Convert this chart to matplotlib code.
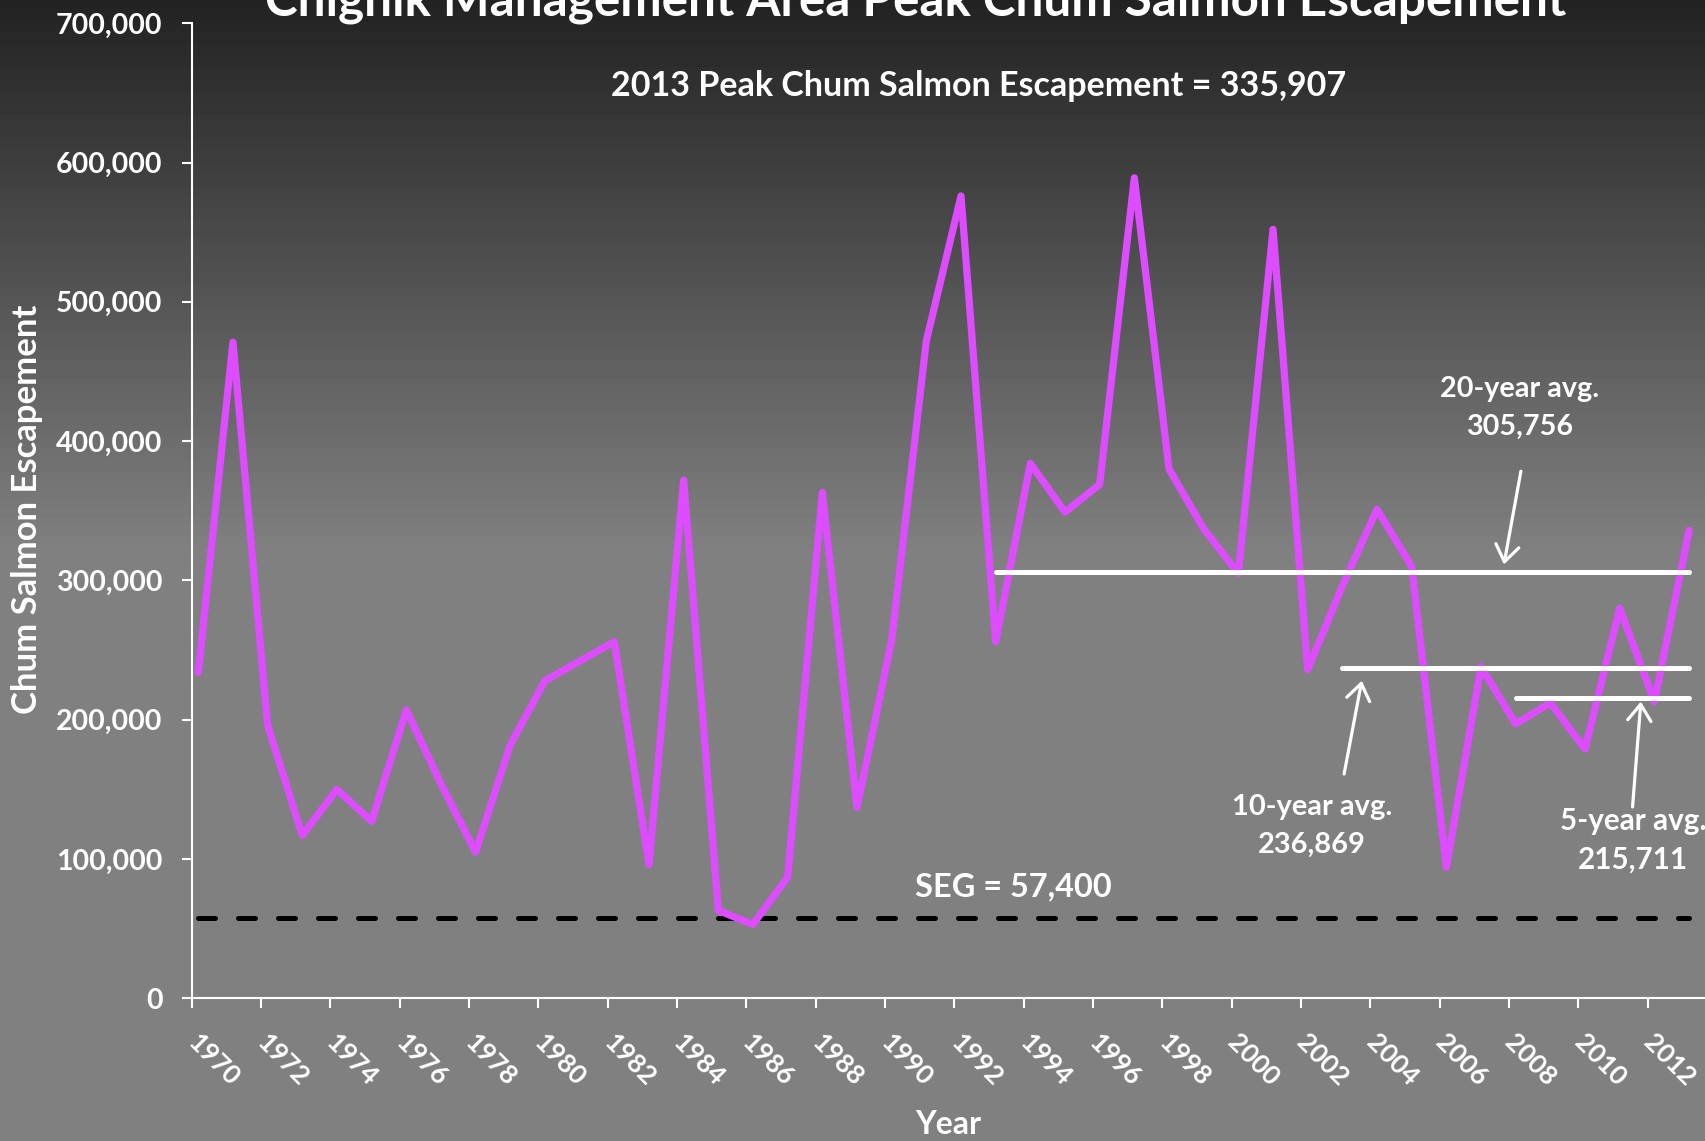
import numpy as np
import matplotlib
matplotlib.use("Agg")
import matplotlib.pyplot as plt

plt.rcParams['font.family'] = ['Lato', 'DejaVu Sans']

# ---------------- data ----------------
years = list(range(1970, 2014))
escapement = [234000, 471000, 196000, 117000, 150000, 127000, 207000, 154000,
              105000, 182000, 228000, 242000, 256000, 96000, 372000, 63000,
              53000, 87000, 363000, 137000, 257000, 472000, 576000, 256000,
              384000, 349000, 369000, 589000, 380000, 337000, 305000, 552000,
              236000, 296000, 351000, 310000, 94000, 238000, 197000, 212000,
              179000, 280000, 213000, 335907]
seg_value = 57400
avg_labels = ["20-year avg.", "10-year avg.", "5-year avg."]
avg_values = [305756, 236869, 215711]
avg_start = [1993, 2003, 2008]
avg_end = 2013
ytick_values = [0, 100000, 200000, 300000, 400000, 500000, 600000, 700000]
xtick_labels = [str(y) for y in range(1970, 2013, 2)]

W, H = 1705, 1141
fig = plt.figure(figsize=(W / 100, H / 100), dpi=100)

# background gradient
bg = fig.add_axes([0, 0, 1, 1])
bg.set_zorder(-5)
yy = np.linspace(0, 1, H).reshape(-1, 1)
grad = np.clip(0.135 + (0.5 - 0.135) * yy / 0.48, None, 0.5)
bg.imshow(grad, cmap='gray', vmin=0, vmax=1, aspect='auto', extent=[0, 1, 0, 1])
bg.axis('off')

x0, xr, ybot, ytop = 191.7, 1705, 998.3, 23.2
ax = fig.add_axes([x0 / W, (H - ybot) / H, (xr - x0) / W, (ybot - ytop) / H])
ax.set_facecolor('none')

magenta = '#DD4CFF'
ax.plot(years, escapement, color=magenta, lw=5.2, solid_joinstyle='round',
        solid_capstyle='round', zorder=3)

# SEG dashed line
ax.plot([years[0], years[-1]], [seg_value, seg_value], color='black', lw=3.6,
        dashes=(3.4, 4.6), dash_capstyle='round', zorder=2)

# average lines
for v, s in zip(avg_values, avg_start):
    ax.plot([s, avg_end], [v, v], color='white', lw=3.6, solid_capstyle='round',
            zorder=4)

ax.set_xlim(1969.81, 2013.46)
ax.set_ylim(0, 700000)

xt = [1969.81 + 2 * k for k in range(len(xtick_labels))]
ax.set_xticks(xt)
ax.set_xticklabels(xtick_labels, rotation=-45, ha='left', va='center',
                   rotation_mode='anchor', fontsize=19, fontweight='bold', color='white')
ax.set_yticks(ytick_values)
ax.set_yticklabels([f"{v:,}" for v in ytick_values], fontsize=20.5,
                   fontweight='bold', color='white')
ax.tick_params(axis='x', direction='out', length=7, width=1.5, color='white', pad=22)
ax.tick_params(axis='y', direction='out', length=7, width=1.5, color='white', pad=14)

for s in ['top', 'right']:
    ax.spines[s].set_visible(False)
for s in ['left', 'bottom']:
    ax.spines[s].set_color('white')
    ax.spines[s].set_linewidth(1.5)

ax.set_ylabel('Chum Salmon Escapement', fontweight='bold', color='white', fontsize=22)
ax.yaxis.set_label_coords((27 - x0) / (xr - x0), (ybot - 509) / (ybot - ytop))
ax.yaxis.label.set_verticalalignment('center')
ax.yaxis.label.set_horizontalalignment('center')
ax.set_xlabel('Year', fontweight='bold', color='white', fontsize=22)
ax.xaxis.set_label_coords(0.5, (ybot - 1124) / (ybot - ytop))
ax.xaxis.label.set_verticalalignment('center')

fig.canvas.draw()
renderer = fig.canvas.get_renderer()


def fit(t, target, use_height=False):
    for _ in range(3):
        bb = t.get_window_extent(renderer=renderer)
        cur = bb.height if use_height else bb.width
        t.set_fontsize(t.get_fontsize() * target / cur)


fit(ax.yaxis.label, 408, use_height=True)
fit(ax.xaxis.label, 66)

title = fig.text(916 / W, 1 - 15 / H, 'Chignik Management Area Peak Chum Salmon Escapement',
                 ha='center', va='baseline', color='white', fontweight='bold', fontsize=36)
fit(title, 1300)

sub = ax.text(1992.52, 647700, '2013 Peak Chum Salmon Escapement = 335,907',
              ha='center', va='baseline', color='white', fontweight='bold', fontsize=22)
fit(sub, 734)

seg_t = ax.text(1993.5, 73000, f'SEG = {seg_value:,}', ha='center', va='baseline',
                color='white', fontweight='bold', fontsize=24)
fit(seg_t, 197)

# annotation texts (two lines each)
ann = [
    (2008.12, 431600, 404200, 159),
    (2002.12, 131300, 104700, 160),
    (2011.38, 120500, 93100, 146),
]
for (lab, v, (xc, y1, y2, wtarget)) in zip(avg_labels, avg_values, ann):
    t1 = ax.text(xc, y1, lab, ha='center', va='baseline', color='white',
                 fontweight='bold', fontsize=22)
    fit(t1, wtarget)
    ax.text(xc, y2, f'{v:,}', ha='center', va='baseline', color='white',
            fontweight='bold', fontsize=t1.get_fontsize())

arrows = [
    ((2008.15, 378400), (2007.66, 311400)),
    ((2003.05, 161000), (2003.56, 228000)),
    ((2011.37, 137400), (2011.61, 213000)),
]
for tail, head in arrows:
    ax.annotate('', xy=head, xytext=tail,
                arrowprops=dict(arrowstyle='->, head_length=0.42, head_width=0.3',
                                color='white', lw=2.3, mutation_scale=28,
                                shrinkA=0, shrinkB=0), zorder=5)

fig.savefig('out.png', dpi=100)
